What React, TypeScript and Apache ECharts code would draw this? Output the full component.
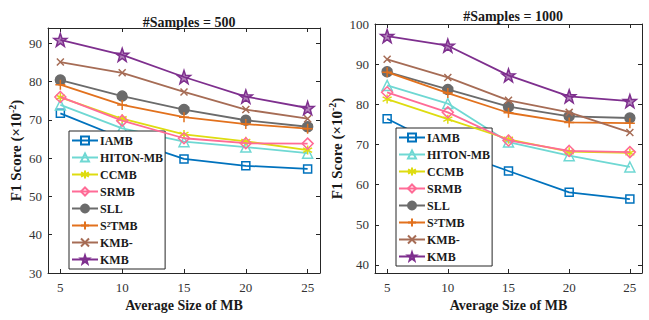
import React, { useEffect, useRef } from "react";
import * as echarts from "echarts";

const sizes = [5, 10, 15, 20, 25];
const names = ["IAMB", "HITON-MB", "CCMB", "SRMB", "SLL", "S²TMB", "KMB-", "KMB"];

// #Samples = 500
const left_IAMB = [71.7, 65.2, 59.8, 58.0, 57.2];
const left_HITON = [73.9, 67.8, 64.3, 62.9, 61.3];
const left_CCMB = [75.9, 70.3, 66.2, 64.4, 62.1];
const left_SRMB = [76.0, 69.8, 65.2, 63.9, 63.8];
const left_SLL = [80.4, 76.2, 72.7, 69.9, 68.2];
const left_S2TMB = [79.2, 73.9, 70.7, 68.9, 67.7];
const left_KMBm = [85.1, 82.3, 77.3, 72.7, 70.3];
const left_KMB = [90.9, 87.0, 81.2, 76.1, 73.1];

// #Samples = 1000
const right_IAMB = [76.4, 68.8, 63.4, 58.1, 56.4];
const right_HITON = [84.7, 80.2, 70.6, 67.2, 64.4];
const right_CCMB = [81.3, 76.3, 71.3, 68.2, 67.9];
const right_SRMB = [83.0, 78.0, 71.0, 68.4, 68.1];
const right_SLL = [88.1, 83.7, 79.4, 77.0, 76.6];
const right_S2TMB = [88.0, 82.8, 77.9, 75.5, 75.3];
const right_KMBm = [91.2, 86.7, 81.0, 78.0, 73.0];
const right_KMB = [97.0, 94.6, 87.2, 82.0, 80.8];

const leftData = [left_IAMB, left_HITON, left_CCMB, left_SRMB, left_SLL, left_S2TMB, left_KMBm, left_KMB];
const rightData = [right_IAMB, right_HITON, right_CCMB, right_SRMB, right_SLL, right_S2TMB, right_KMBm, right_KMB];

const xTicks = [5, 10, 15, 20, 25];
const leftYTicks = [30, 40, 50, 60, 70, 80, 90];
const rightYTicks = [40, 50, 60, 70, 80, 90, 100];

const colors = ["#0072BD", "#6FD8D3", "#DEDC10", "#FF6B96", "#6B6B6B", "#E2711D", "#A66C55", "#7E2F8E"];

const STAR =
  "path://M0,-10L2.351,-3.236L9.511,-3.09L3.804,1.236L5.878,8.09L0,4L-5.878,8.09L-3.804,1.236L-9.511,-3.09L-2.351,-3.236Z";
const symbols = [
  { symbol: "rect", size: 8, fill: "rgba(255,255,255,0)" },
  { symbol: "triangle", size: 10, fill: "rgba(255,255,255,0)" },
  { symbol: "path://M0,-10L0,10M-8.66,-5L8.66,5M-8.66,5L8.66,-5", size: 9, fill: "rgba(255,255,255,0)" },
  { symbol: "diamond", size: 11, fill: "rgba(255,255,255,0)" },
  { symbol: "circle", size: 10, fill: "#6B6B6B" },
  { symbol: "path://M0,-10L0,10M-10,0L10,0", size: 10, fill: "rgba(255,255,255,0)" },
  { symbol: "path://M-7,-7L7,7M-7,7L7,-7", size: 7, fill: "rgba(255,255,255,0)" },
  { symbol: STAR, size: 13, fill: "rgba(126,47,142,0.6)" },
];

const FONT = "'Liberation Serif', 'DejaVu Serif', serif";
const AX = "#262626";

export default function App() {
  const ref = useRef<HTMLDivElement>(null);
  useEffect(() => {
    if (!ref.current) return;
    const chart = echarts.init(ref.current, undefined, { renderer: "svg" });

    const grids = [
      { left: 48, top: 28, width: 272, height: 245 },
      { left: 375, top: 24, width: 267, height: 249 },
    ];

    const xAxes: any[] = [];
    const yAxes: any[] = [];
    const yRanges = [
      { min: 30, max: 94, ticks: leftYTicks, gap: 14 },
      { min: 38, max: 100, ticks: rightYTicks, gap: 24 },
    ];
    [0, 1].forEach((g) => {
      const common = {
        gridIndex: g,
        type: "value",
        splitLine: { show: false },
        axisLine: { show: true, onZero: false, lineStyle: { color: AX, width: 1 } },
      };
      xAxes.push({
        ...common,
        position: "bottom",
        min: 4,
        max: 26,
        axisTick: { show: true, inside: true, length: 4, customValues: xTicks, lineStyle: { color: AX } },
        axisLabel: { customValues: xTicks, color: "#333", fontFamily: FONT, fontSize: 13, margin: 8 },
        name: "Average Size of MB",
        nameLocation: "middle",
        nameGap: 25,
        nameTextStyle: { color: "#1a1a1a", fontFamily: FONT, fontSize: 14, fontWeight: "bold" },
      });
      xAxes.push({
        ...common,
        position: "top",
        min: 4,
        max: 26,
        axisTick: { show: true, inside: true, length: 4, customValues: xTicks, lineStyle: { color: AX } },
        axisLabel: { show: false },
      });
      const yr = yRanges[g];
      yAxes.push({
        ...common,
        position: "left",
        min: yr.min,
        max: yr.max,
        axisTick: { show: true, inside: true, length: 4, customValues: yr.ticks, lineStyle: { color: AX } },
        axisLabel: { customValues: yr.ticks, color: "#333", fontFamily: FONT, fontSize: 13, margin: 6 },
        name: "{a|F1 Score (×10}{s|-2}{a|)}",
        nameLocation: "middle",
        nameGap: yr.gap,
        nameTextStyle: {
          rich: {
            a: { color: "#1a1a1a", fontFamily: FONT, fontSize: 15, fontWeight: "bold", lineHeight: 18 },
            s: { color: "#1a1a1a", fontFamily: FONT, fontSize: 10, fontWeight: "bold", lineHeight: 18, padding: [0, 0, 8, 0] },
          },
        },
      });
      yAxes.push({
        ...common,
        position: "right",
        min: yr.min,
        max: yr.max,
        axisTick: { show: true, inside: true, length: 4, customValues: yr.ticks, lineStyle: { color: AX } },
        axisLabel: { show: false },
      });
    });

    const series: any[] = [];
    [leftData, rightData].forEach((set, g) => {
      set.forEach((vals, i) => {
        const s = symbols[i];
        series.push({
          type: "line",
          name: names[i],
          xAxisIndex: g * 2,
          yAxisIndex: g * 2,
          data: sizes.map((x, k) => [x, vals[k]]),
          symbol: s.symbol,
          symbolSize: s.size,
          showAllSymbol: true,
          lineStyle: { color: colors[i], width: 1.8 },
          itemStyle: { color: s.fill, borderColor: colors[i], borderWidth: 1.5 },
          emphasis: { disabled: true },
          z: 2 + i,
        });
      });
    });

    const legendCommon = {
      orient: "vertical",
      data: names,
      itemWidth: 26,
      itemHeight: 10,
      itemGap: 4,
      padding: [3, 2, 3, 2],
      borderColor: AX,
      borderWidth: 1,
      backgroundColor: "#fff",
      borderRadius: 0,
      selectedMode: false,
      textStyle: {
        padding: [0, 0, 0, -3],
        color: "#1a1a1a",
        fontFamily: FONT,
        fontSize: 12,
        fontWeight: "bold",
        lineHeight: 13,
      },
    };

    chart.setOption({
      animation: false,
      backgroundColor: "#fff",
      title: [
        {
          text: "#Samples = 500",
          left: 184,
          top: 10,
          textAlign: "center",
          textStyle: { fontFamily: FONT, fontSize: 14, fontWeight: "bold", color: "#1a1a1a" },
        },
        {
          text: "#Samples = 1000",
          left: 508,
          top: 4,
          textAlign: "center",
          textStyle: { fontFamily: FONT, fontSize: 14, fontWeight: "bold", color: "#1a1a1a" },
        },
      ],
      grid: grids,
      xAxis: xAxes,
      yAxis: yAxes,
      legend: [
        { ...legendCommon, left: 69, top: 131 },
        { ...legendCommon, left: 396, top: 128 },
      ],
      series,
    });
    return () => chart.dispose();
  }, []);
  return <div ref={ref} style={{ position: "fixed", left: 0, top: 0, width: 649, height: 320 }} />;
}
